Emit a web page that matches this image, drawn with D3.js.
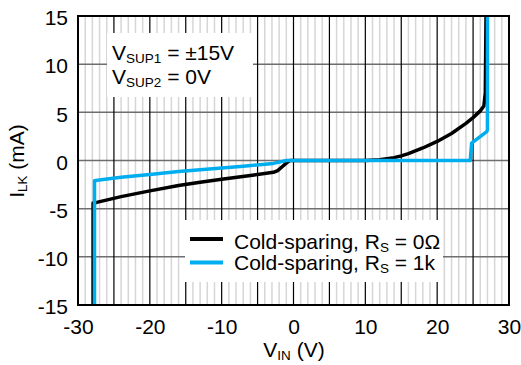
<!DOCTYPE html>
<html>
<head>
<meta charset="utf-8">
<script src="https://cdn.jsdelivr.net/npm/d3@7"></script>
<style>
  html, body { margin: 0; padding: 0; background: #fff; }
  svg { display: block; font-family: Arial, "Liberation Sans", sans-serif; }
</style>
</head>
<body>
<svg id="chart" width="521" height="365"></svg>
<script>
// Input voltage (V) and leakage current (mA) for each cold-sparing configuration
const rs0Vin = [-27.9, -27.9, -27.4, -24, -20, -16, -13, -10, -6, -2.8, -2.2, -1.5, -0.8, -0.5, 10, 12, 14, 15, 16, 18, 20, 22, 24, 25, 26, 26.5, 26.7, 26.8];
const rs0Ilk = [-15, -4.4, -4.35, -3.75, -3.15, -2.6, -2.26, -1.95, -1.55, -1.23, -1.05, -0.6, -0.15, 0, 0, 0.08, 0.3, 0.48, 0.72, 1.3, 1.98, 2.8, 3.85, 4.45, 5.15, 5.65, 7, 15];
const rs1kVin = [-27.7, -27.7, -27.3, -24, -20, -16, -13, -10, -7, -2.8, -1, 24.6, 24.8, 26.9, 27.0, 27.0];
const rs1kIlk = [-15, -2.1, -2.05, -1.75, -1.45, -1.15, -0.95, -0.78, -0.6, -0.3, 0, 0, 1.8, 3.0, 3.2, 15];

const xTicks = [-30, -20, -10, 0, 10, 20, 30];
const yTicks = [-15, -10, -5, 0, 5, 10, 15];
const seriesNames = ["Cold-sparing, R", "Cold-sparing, R"];
const seriesTails = [" = 0\u03A9", " = 1k"];
const seriesColors = ["#000000", "#00aeef"];

const FONT = 21, SUB = 13.5;
const svg = d3.select("#chart");
const m = { left: 78, right: 509, top: 16, bottom: 305 };
const x = d3.scaleLinear().domain([-30, 30]).range([m.left, m.right]);
const y = d3.scaleLinear().domain([-15, 15]).range([m.bottom, m.top]);

svg.append("defs").append("clipPath").attr("id", "plot")
  .append("rect").attr("x", m.left).attr("y", m.top)
  .attr("width", m.right - m.left).attr("height", m.bottom - m.top);

// Grid: light minor verticals each 1 V, dark majors each 5 V, grey horizontals each 5 mA
const grid = svg.append("g");
grid.selectAll(".minor").data(d3.range(-29, 30).filter(v => v % 5 !== 0)).join("line")
  .attr("x1", d => x(d)).attr("x2", d => x(d))
  .attr("y1", m.top).attr("y2", m.bottom)
  .attr("stroke", "#d6d6d6").attr("stroke-width", 1.5);
grid.selectAll(".hmaj").data(d3.range(-10, 15, 5)).join("line")
  .attr("x1", m.left).attr("x2", m.right)
  .attr("y1", d => y(d)).attr("y2", d => y(d))
  .attr("stroke", "#6e6e6e").attr("stroke-width", 1.5);
grid.selectAll(".vmaj").data(d3.range(-25, 30, 5)).join("line")
  .attr("x1", d => x(d)).attr("x2", d => x(d))
  .attr("y1", m.top).attr("y2", m.bottom)
  .attr("stroke", "#000").attr("stroke-width", 1.2);

function subText(g, xPos, yPos, main, sub, tail) {
  const t = g.append("text").attr("x", xPos).attr("y", yPos).attr("font-size", FONT).attr("fill", "#000");
  t.append("tspan").text(main);
  t.append("tspan").attr("font-size", SUB).attr("dy", 3).text(sub);
  t.append("tspan").attr("dy", -3).text(tail);
  return t;
}

// Annotation box with supply conditions
const note = svg.append("g");
note.append("rect").attr("x", 107).attr("y", 33).attr("width", 146).attr("height", 64).attr("fill", "#fff");
subText(note, 112, 60, "V", "SUP1", " = \u00B115V");
subText(note, 112, 84, "V", "SUP2", " = 0V");

// Curves
const line = d3.line().x(d => x(d[0])).y(d => y(d[1]));
const curves = svg.append("g").attr("clip-path", "url(#plot)");
const series = [
  d3.zip(rs0Vin, rs0Ilk),
  d3.zip(rs1kVin, rs1kIlk)
];
series.forEach((pts, i) => {
  curves.append("path").datum(pts).attr("d", line)
    .attr("fill", "none").attr("stroke", seriesColors[i])
    .attr("stroke-width", 3.5).attr("stroke-linejoin", "round");
});

// Legend
const leg = svg.append("g");
leg.append("rect").attr("x", 185).attr("y", 220).attr("width", 258).attr("height", 62).attr("fill", "#fff");
seriesNames.forEach((name, i) => {
  const ly = 239 + i * 23.5;
  leg.append("line").attr("x1", 190).attr("x2", 223).attr("y1", ly).attr("y2", ly)
    .attr("stroke", seriesColors[i]).attr("stroke-width", 4);
  subText(leg, 234, 249 + i * 21, name, "S", seriesTails[i]);
});

// Frame
svg.append("rect").attr("x", m.left).attr("y", m.top)
  .attr("width", m.right - m.left).attr("height", m.bottom - m.top)
  .attr("fill", "none").attr("stroke", "#000").attr("stroke-width", 2);

// Axes tick labels via d3 axes, with the tick lines hidden
const fmt = d => String(d);
const xAxis = svg.append("g").attr("transform", `translate(0,${m.bottom})`)
  .call(d3.axisBottom(x).tickValues(xTicks).tickSize(0).tickPadding(14).tickFormat(fmt));
const yAxis = svg.append("g").attr("transform", `translate(${m.left},0)`)
  .call(d3.axisLeft(y).tickValues(yTicks).tickSize(0).tickPadding(10).tickFormat(fmt));
[xAxis, yAxis].forEach(a => {
  a.select(".domain").remove();
  a.selectAll("text").attr("font-size", FONT).attr("font-family", "Arial, 'Liberation Sans', sans-serif").attr("fill", "#000");
});
yAxis.selectAll("text").attr("dy", "0.42em");

// Axis titles
const xt = svg.append("text").attr("x", 294).attr("y", 357).attr("text-anchor", "middle").attr("font-size", FONT);
xt.append("tspan").text("V");
xt.append("tspan").attr("font-size", SUB).attr("dy", 3).text("IN");
xt.append("tspan").attr("dy", -3).text(" (V)");

const yt = svg.append("text").attr("transform", "translate(24,161) rotate(-90)").attr("text-anchor", "middle").attr("font-size", FONT);
yt.append("tspan").text("I");
yt.append("tspan").attr("font-size", SUB).attr("dy", 3).text("LK");
yt.append("tspan").attr("dy", -3).text(" (mA)");
</script>
</body>
</html>
